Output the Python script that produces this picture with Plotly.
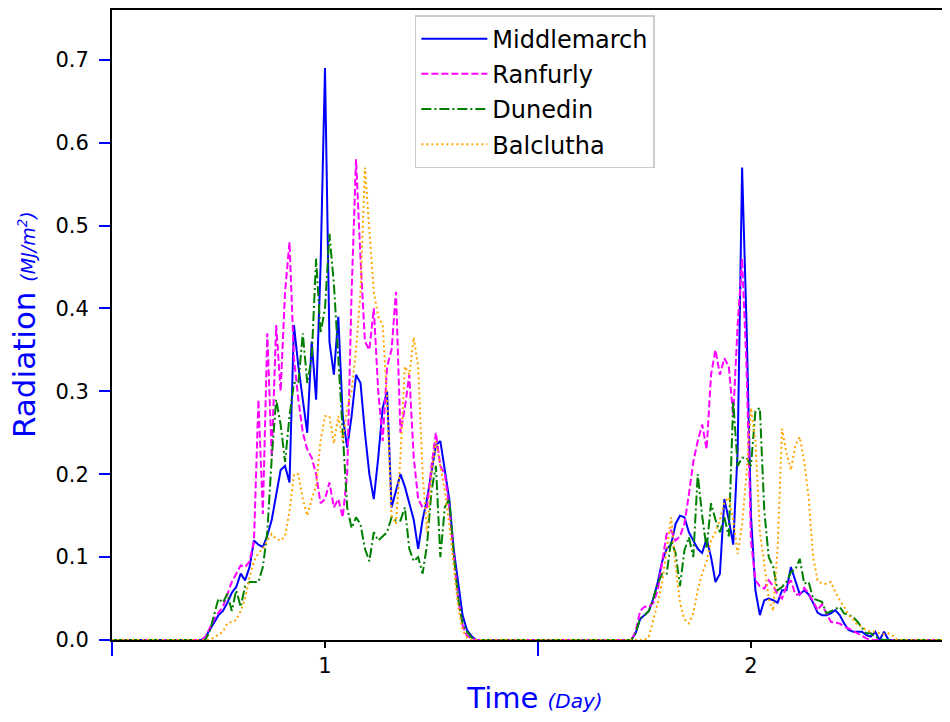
import plotly.graph_objects as go

# 15-minute samples, time in days (sample index / 96)
SAMPLES_PER_DAY = 96
day1_steps = list(range(68, 132))
day2_steps = list(range(164, 226))
night_start, night_end = 0.5, 2.5

middlemarch_day1 = [0, 0.003, 0.012, 0.022, 0.03, 0.035, 0.045, 0.057, 0.064, 0.08,
                    0.072, 0.088, 0.12, 0.115, 0.112, 0.126, 0.145, 0.175, 0.205, 0.21,
                    0.19, 0.38, 0.33, 0.29, 0.25, 0.36, 0.29, 0.45, 0.69, 0.36,
                    0.32, 0.39, 0.27, 0.232, 0.27, 0.32, 0.31, 0.25, 0.2, 0.17,
                    0.22, 0.28, 0.30, 0.16, 0.18, 0.2, 0.185, 0.165, 0.145, 0.11,
                    0.145, 0.17, 0.2, 0.235, 0.24, 0.205, 0.17, 0.11, 0.07, 0.03,
                    0.012, 0.005, 0, 0]
ranfurly_day1 = [0, 0.003, 0.015, 0.025, 0.033, 0.04, 0.055, 0.07, 0.08, 0.09,
                 0.088, 0.095, 0.12, 0.29, 0.152, 0.37, 0.22, 0.38, 0.3, 0.42,
                 0.48, 0.34, 0.29, 0.25, 0.23, 0.22, 0.2, 0.165, 0.17, 0.19,
                 0.16, 0.17, 0.148, 0.2, 0.42, 0.58, 0.46, 0.36, 0.35, 0.40,
                 0.30, 0.24, 0.33, 0.35, 0.42, 0.25, 0.28, 0.32, 0.22, 0.17,
                 0.16, 0.16, 0.21, 0.25, 0.21, 0.2, 0.16, 0.105, 0.05, 0.018,
                 0.005, 0.002, 0, 0]
dunedin_day1 = [0, 0, 0.01, 0.03, 0.05, 0.045, 0.056, 0.035, 0.06, 0.04,
                0.065, 0.07, 0.07, 0.07, 0.088, 0.13, 0.22, 0.29, 0.26, 0.215,
                0.27, 0.31, 0.31, 0.37, 0.31, 0.34, 0.46, 0.37, 0.40, 0.49,
                0.43, 0.34, 0.25, 0.16, 0.135, 0.148, 0.14, 0.11, 0.095, 0.13,
                0.12, 0.125, 0.13, 0.148, 0.144, 0.144, 0.16, 0.11, 0.095, 0.1,
                0.08, 0.115, 0.18, 0.21, 0.1, 0.16, 0.17, 0.105, 0.05, 0.02,
                0.01, 0.003, 0, 0]
balclutha_day1 = [0, 0, 0, 0.003, 0.006, 0.01, 0.02, 0.022, 0.024, 0.035,
                  0.05, 0.076, 0.095, 0.105, 0.11, 0.12, 0.128, 0.122, 0.12, 0.125,
                  0.155, 0.2, 0.2, 0.17, 0.15, 0.17, 0.186, 0.24, 0.27, 0.27,
                  0.237, 0.27, 0.24, 0.28, 0.3, 0.35, 0.42, 0.57, 0.5, 0.42,
                  0.39, 0.38, 0.29, 0.15, 0.14, 0.22, 0.33, 0.32, 0.365, 0.33,
                  0.2, 0.13, 0.2, 0.24, 0.21, 0.18, 0.14, 0.09, 0.04, 0.012,
                  0.003, 0, 0, 0]

middlemarch_day2 = [0, 0, 0.008, 0.025, 0.03, 0.035, 0.05, 0.07, 0.095, 0.11,
                    0.115, 0.14, 0.15, 0.148, 0.13, 0.12, 0.11, 0.105, 0.122, 0.1,
                    0.07, 0.08, 0.17, 0.145, 0.115, 0.228, 0.57, 0.38, 0.15, 0.06,
                    0.03, 0.048, 0.05, 0.048, 0.045, 0.06, 0.06, 0.088, 0.07, 0.055,
                    0.06, 0.055, 0.045, 0.033, 0.03, 0.03, 0.032, 0.036, 0.03, 0.02,
                    0.012, 0.01, 0.01, 0.01, 0.006, 0.004, 0.01, 0, 0.01, 0,
                    0, 0]
ranfurly_day2 = [0, 0, 0.01, 0.035, 0.04, 0.04, 0.045, 0.06, 0.095, 0.128,
                 0.132, 0.12, 0.125, 0.14, 0.175, 0.215, 0.24, 0.26, 0.23, 0.32,
                 0.35, 0.32, 0.34, 0.33, 0.27, 0.38, 0.46, 0.33, 0.12, 0.072,
                 0.065, 0.062, 0.072, 0.065, 0.055, 0.05, 0.065, 0.072, 0.055, 0.055,
                 0.063, 0.056, 0.047, 0.036, 0.043, 0.032, 0.022, 0.021, 0.02, 0.016,
                 0.014, 0.011, 0.008, 0.004, 0.002, 0, 0, 0, 0, 0,
                 0, 0]
dunedin_day2 = [0, 0, 0.008, 0.026, 0.03, 0.035, 0.05, 0.068, 0.08, 0.08,
                0.12, 0.105, 0.065, 0.108, 0.124, 0.1, 0.2, 0.15, 0.11, 0.165,
                0.145, 0.13, 0.148, 0.125, 0.288, 0.21, 0.22, 0.22, 0.21, 0.276,
                0.28, 0.156, 0.1, 0.088, 0.06, 0.064, 0.07, 0.082, 0.085, 0.098,
                0.068, 0.07, 0.05, 0.048, 0.046, 0.032, 0.035, 0.038, 0.04, 0.032,
                0.03, 0.028, 0.022, 0.015, 0.008, 0.008, 0.005, 0.001, 0, 0,
                0, 0]
balclutha_day2 = [0, 0, 0, 0, 0, 0.004, 0.024, 0.045, 0.07, 0.11,
                  0.148, 0.09, 0.045, 0.025, 0.02, 0.032, 0.06, 0.08, 0.095, 0.12,
                  0.13, 0.145, 0.166, 0.172, 0.145, 0.104, 0.14, 0.2, 0.28, 0.24,
                  0.13, 0.092, 0.05, 0.035, 0.11, 0.255, 0.225, 0.205, 0.235, 0.245,
                  0.215, 0.172, 0.1, 0.072, 0.068, 0.068, 0.07, 0.058, 0.048, 0.04,
                  0.03, 0.025, 0.018, 0.016, 0.012, 0.01, 0.01, 0.008, 0.007, 0.008,
                  0.005, 0]

y_ticks = [0.0, 0.1, 0.2, 0.3, 0.4, 0.5, 0.6, 0.7]
x_ticks = [1, 2]
x_minor_ticks = [0.5, 1.5, 2.5]

time = [night_start] + [k / SAMPLES_PER_DAY for k in day1_steps + day2_steps] + [night_end]

series = [
    ("Middlemarch", middlemarch_day1, middlemarch_day2, "#0000ff", "solid"),
    ("Ranfurly", ranfurly_day1, ranfurly_day2, "#ff00ff", "7px,3px"),
    ("Dunedin", dunedin_day1, dunedin_day2, "#008000", "10px,3px,2px,3px"),
    ("Balclutha", balclutha_day1, balclutha_day2, "#ffa500", "2px,3px"),
]

FONT = "DejaVu Sans"

fig = go.Figure()
for name, d1, d2, color, dash in series:
    fig.add_trace(go.Scatter(
        x=time, y=[0] + d1 + d2 + [0], mode="lines", name=name, legendgroup=name,
        line=dict(color=color, width=2, dash=dash),
    ))

# y title as an annotation so it can sit further left than plotly's axis title allows
fig.add_annotation(
    text="Radiation <span style='font-size:19px'><i>(MJ/m<sup>2</sup>)</i></span>",
    xref="paper", yref="paper", x=-0.104, y=0.5, xanchor="center", yanchor="middle",
    textangle=-90, showarrow=False, font=dict(family=FONT, size=31, color="blue"),
)

# the page body adds an 8px offset, margins below make up for it
fig.update_layout(
    width=950, height=722,
    margin=dict(l=104, r=0, t=0, b=90),
    paper_bgcolor="white", plot_bgcolor="white",
    font=dict(family=FONT, size=21, color="black"),
    showlegend=True,
    legend=dict(
        x=0.358, y=0.992, xanchor="left", yanchor="top",
        bgcolor="white", bordercolor="#cccccc", borderwidth=1.5,
        font=dict(family=FONT, size=24, color="black"),
        tracegroupgap=1, itemwidth=66,
    ),
    xaxis=dict(
        range=[0.5, 2.486], tickmode="array", tickvals=x_ticks,
        ticks="outside", ticklen=6, tickwidth=1.5, tickcolor="black",
        showline=True, linecolor="black", linewidth=2, mirror=True,
        showgrid=False, zeroline=False, layer="above traces",
        minor=dict(tickmode="array", tickvals=x_minor_ticks, ticks="outside",
                   ticklen=14, tickwidth=1.5, tickcolor="blue", showgrid=False),
        title=dict(text="Time <span style='font-size:20px'><i>(Day)</i></span>",
                   font=dict(family=FONT, size=29, color="blue"), standoff=10),
    ),
    yaxis=dict(
        range=[0, 0.76], tickmode="array", tickvals=y_ticks, tickformat=".1f",
        ticks="outside", ticklen=11, tickwidth=1.5, tickcolor="blue",
        ticklabelstandoff=6,
        showline=True, linecolor="black", linewidth=2,
        showgrid=False, zeroline=False, layer="above traces",
    ),
)

fig.write_html("out.html")
